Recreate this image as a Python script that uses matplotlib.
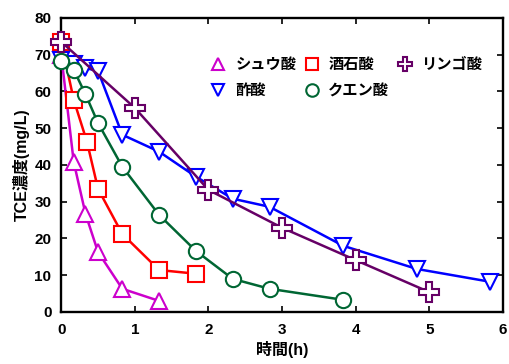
import matplotlib.pyplot as plt
import matplotlib as mpl

mpl.rcParams['font.family'] = ['Liberation Sans', 'Noto Sans CJK JP']
mpl.rcParams['font.weight'] = 'bold'

# time (h) and TCE concentration (mg/L) per acid
ox_t = [0, 0.17, 0.33, 0.5, 0.83, 1.33]
ox_c = [70, 40.8, 26.7, 16.3, 6.3, 3.0]
tar_t = [0, 0.17, 0.35, 0.5, 0.83, 1.33, 1.83]
tar_c = [73.5, 57.7, 46.3, 33.5, 21.2, 11.4, 10.4]
ace_t = [0, 0.17, 0.33, 0.5, 0.83, 1.33, 1.83, 2.33, 2.83, 3.83, 4.83, 5.83]
ace_c = [68.5, 67.5, 66.3, 65.6, 48.2, 43.6, 36.8, 30.8, 28.6, 18.0, 11.7, 8.2]
cit_t = [0, 0.17, 0.33, 0.5, 0.83, 1.33, 1.83, 2.33, 2.83, 3.83]
cit_c = [68.3, 65.9, 59.2, 51.4, 39.5, 26.4, 16.6, 9.0, 6.3, 3.3]
mal_t = [0, 1, 2, 3, 4, 5]
mal_c = [73.5, 55.5, 33.2, 22.9, 14.1, 5.4]

fig = plt.figure(figsize=(5.1, 3.64), dpi=100)
ax = fig.add_axes([0.12, 0.143, 0.866, 0.808])

kw = dict(lw=1.8, mfc='white', mew=1.5, clip_on=False, zorder=3)
h_ox, = ax.plot(ox_t, ox_c, c='#CC00CC', marker='^', ms=11, label='シュウ酸', **kw)
h_tar, = ax.plot(tar_t, tar_c, c='#FF0000', marker='s', ms=11, label='酒石酸', **kw)
h_ace, = ax.plot(ace_t, ace_c, c='#0000FF', marker='v', ms=11, label='酢酸', **kw)
h_cit, = ax.plot(cit_t, cit_c, c='#006633', marker='o', ms=11, label='クエン酸', **kw)
h_mal, = ax.plot(mal_t, mal_c, c='#660066', marker='P', ms=15, label='リンゴ酸', **kw)

ax.set_xlim(0, 6)
ax.set_ylim(0, 80)
ax.set_xticks(range(0, 7))
ax.set_yticks(range(0, 81, 10))
ax.tick_params(direction='in', length=4, width=1.2, top=True, right=True,
               labelsize=11)
ax.tick_params(axis='x', pad=8)
ax.tick_params(axis='y', pad=7)
for lab in ax.get_xticklabels() + ax.get_yticklabels():
    lab.set_fontweight('bold')
for s in ax.spines.values():
    s.set_linewidth(1.7)

ax.set_xlabel('時間(h)', fontsize=11.5, fontweight='bold', labelpad=3)
ax.set_ylabel('TCE濃度(mg/L)', fontsize=11.5, fontweight='bold', labelpad=3)

leg = ax.legend(handles=[h_ox, h_ace, h_tar, h_cit, h_mal], ncol=3,
                loc='upper left', bbox_to_anchor=(0.325, 0.885), frameon=False,
                handlelength=1.0, columnspacing=0.5,
                handletextpad=0.6, labelspacing=0.8, borderaxespad=0,
                prop={'weight': 'bold', 'size': 11})
for lh in leg.legend_handles:
    lh.set_linestyle('None')
    lh.set_markersize(10 if lh.get_marker() == 'P' else 9)

fig.savefig('out.png', dpi=100)
